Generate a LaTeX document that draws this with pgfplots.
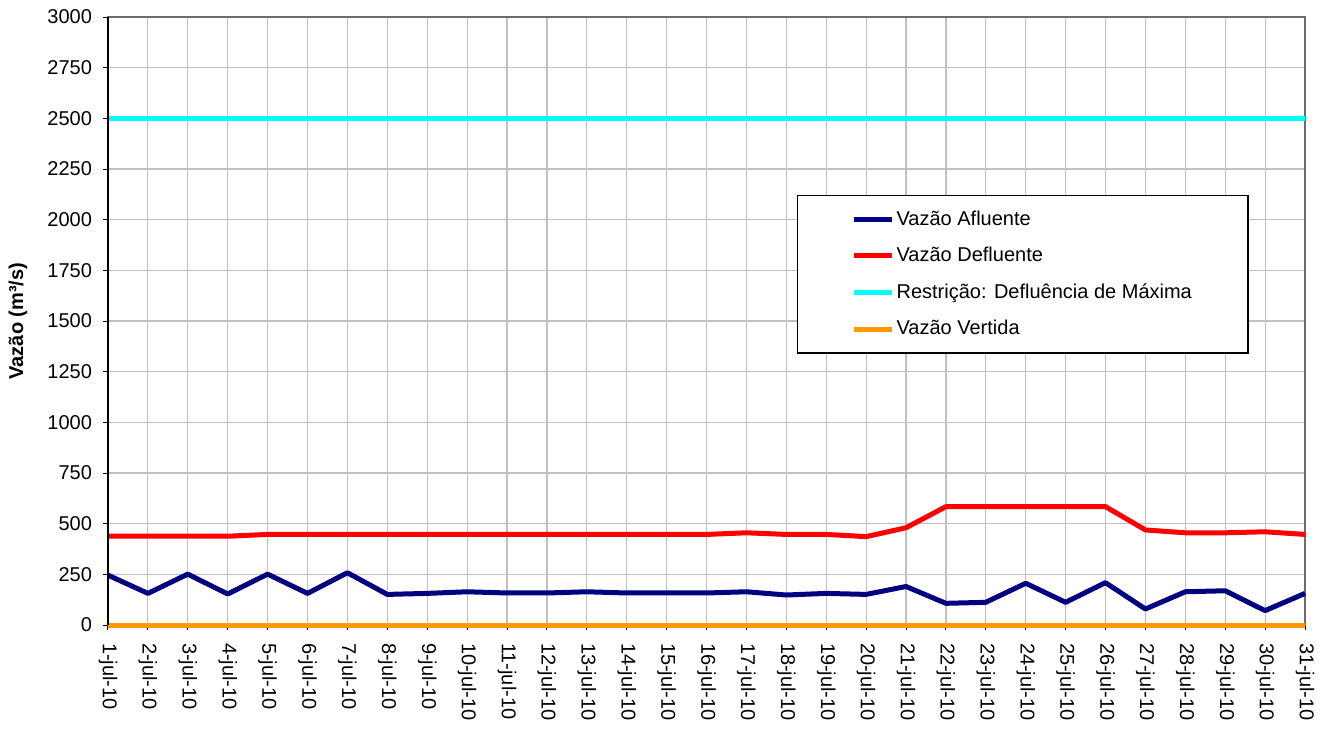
\documentclass[border=0pt]{standalone}
\usepackage{pgfplots}
\pgfplotsset{compat=1.18}
\usepackage{fontspec}
\setmainfont{Liberation Sans}
\definecolor{navy}{RGB}{0,0,128}
\definecolor{cyanl}{RGB}{0,255,255}
\definecolor{orng}{RGB}{255,153,0}
\definecolor{gridc}{RGB}{192,192,192}
\begin{document}
\begin{tikzpicture}
\begin{axis}[
  scale only axis, width=598.5pt, height=304pt,
  xmin=1, xmax=31, ymin=0, ymax=3000,
  clip=false,
  xtick={1,...,31},
  xticklabels={1-jul-10,2-jul-10,3-jul-10,4-jul-10,5-jul-10,6-jul-10,7-jul-10,8-jul-10,9-jul-10,10-jul-10,11-jul-10,12-jul-10,13-jul-10,14-jul-10,15-jul-10,16-jul-10,17-jul-10,18-jul-10,19-jul-10,20-jul-10,21-jul-10,22-jul-10,23-jul-10,24-jul-10,25-jul-10,26-jul-10,27-jul-10,28-jul-10,29-jul-10,30-jul-10,31-jul-10},
  ytick={0,250,...,3000},
  /pgf/number format/assume math mode=true,
  yticklabel style={font=\fontsize{10}{12}\selectfont, xshift=-2pt},
  xticklabel style={font=\fontsize{10}{12}\selectfont, rotate=-90, anchor=west, xshift=3pt},
  tick label style={/pgf/number format/1000 sep={}},
  scaled y ticks=false,
  tick align=outside, major tick length=2.5pt,
  xtick pos=bottom, ytick pos=left,
  tick style={black, line width=0.5pt},
  grid=major, major grid style={gridc, line width=0.6pt},
  axis line style={draw=gray!85!black, line width=0.6pt},
  ylabel={\textbf{Vazão (m³/s)}},
  ylabel style={font=\fontsize{10}{12}\selectfont, at={(axis description cs:-0.0752,0.5)}, anchor=center},
  legend style={at={(rel axis cs:0.5756,0.707)}, anchor=north west, draw=black, line width=0.6pt, fill=white,
    font=\fontsize{10}{12}\selectfont, inner xsep=27pt, inner ysep=6.5pt, row sep=7.5pt,
    nodes={inner sep=1pt}},
  legend cell align=left,
  legend image code/.code={\draw[#1, line width=2.5pt] (0pt,0pt) -- (19pt,0pt);},
  every axis plot/.append style={line width=2.5pt, line join=round},
]
\addplot[navy] coordinates {
(1,246)(2,156)(3,251)(4,153)(5,251)(6,156)(7,258)(8,151)(9,156)(10,164)
(11,158)(12,158)(13,164)(14,158)(15,158)(16,158)(17,164)(18,148)(19,156)(20,151)
(21,190)(22,107)(23,112)(24,206)(25,112)(26,209)(27,79)(28,164)(29,169)(30,71)(31,156)};
\addlegendentry{Vazão Afluente}
\addplot[red] coordinates {
(1,438)(2,438)(3,438)(4,438)(5,447)(6,447)(7,447)(8,447)(9,447)(10,447)
(11,447)(12,447)(13,447)(14,447)(15,447)(16,447)(17,455)(18,447)(19,447)(20,436)
(21,480)(22,584)(23,584)(24,584)(25,584)(26,584)(27,469)(28,455)(29,455)(30,460)(31,447)};
\addlegendentry{Vazão Defluente}
\addplot[cyanl] coordinates {(1,2500)(31,2500)};
\addlegendentry{Restrição: Defluência de Máxima}
\addplot[orng] coordinates {(1,0)(31,0)};
\addlegendentry{Vazão Vertida}
\draw[black, line width=0.8pt] (rel axis cs:0,0) -- (rel axis cs:0,1);
\end{axis}
\pgfresetboundingbox
\useasboundingbox (-54pt,-52.5pt) rectangle (612.5pt,312.5pt);
\end{tikzpicture}
\end{document}
